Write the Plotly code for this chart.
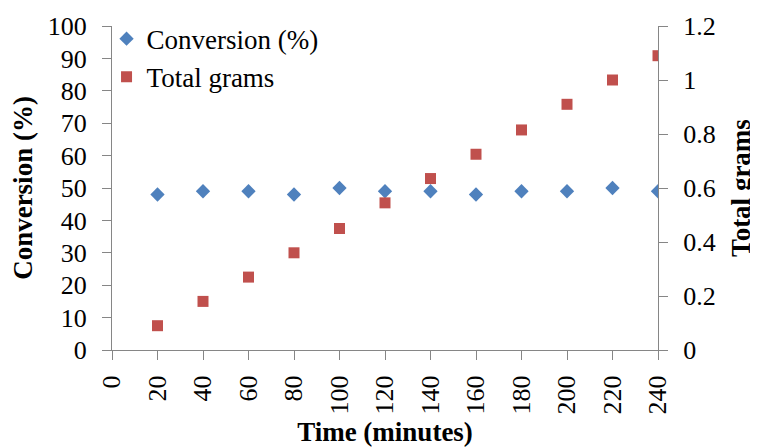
import plotly.graph_objects as go

time_min = [20, 40, 60, 80, 100, 120, 140, 160, 180, 200, 220, 240]
conversion = [48, 49, 49, 48, 50, 49, 49, 48, 49, 49, 50, 49]
total_grams = [0.09, 0.18, 0.27, 0.36, 0.45, 0.545, 0.635, 0.725, 0.815, 0.91, 1.0, 1.09]

FONT = "Liberation Serif, Times New Roman, serif"

fig = go.Figure()
fig.add_trace(go.Scatter(
    x=time_min, y=conversion, mode="markers", name="Conversion (%)",
    marker=dict(symbol="diamond", size=11, color="#4F81BD"),
))
fig.add_trace(go.Scatter(
    x=time_min, y=total_grams, mode="markers", name="Total grams", yaxis="y2",
    marker=dict(symbol="square", size=11, color="#C0504D"),
))

axis_common = dict(
    showgrid=False, zeroline=False, showline=True, linecolor="#868686", linewidth=1,
    ticks="outside", tickcolor="#868686", ticklen=9, automargin=False,
    tickfont=dict(family=FONT, size=26, color="#000000"),
)

fig.update_layout(
    width=750, height=439,
    margin=dict(l=104, r=100, t=18, b=97, autoexpand=False),
    paper_bgcolor="white", plot_bgcolor="white",
    font=dict(family=FONT, color="#000000"),
    showlegend=True,
    legend=dict(x=-0.01, y=0.985, xanchor="left", yanchor="top", yref="container",
                font=dict(family=FONT, size=27, color="#000000"),
                bgcolor="rgba(0,0,0,0)", itemwidth=30),
    xaxis=dict(range=[0, 240], tickmode="linear", tick0=0, dtick=20, tickangle=-90,
               ticklabelstandoff=5,
               title=dict(text="<b>Time (minutes)</b>", font=dict(family=FONT, size=27), standoff=13),
               **axis_common),
    yaxis=dict(range=[0, 100], tickmode="linear", tick0=0, dtick=10,
               ticklabelstandoff=10,
               title=dict(text="<b>Conversion (%)</b>", font=dict(family=FONT, size=27), standoff=12),
               **axis_common),
    yaxis2=dict(range=[0, 1.2], tickmode="linear", tick0=0, dtick=0.2, overlaying="y", side="right",
                tickformat="~g", ticklabelstandoff=10,
                title=dict(text="<b>Total grams</b>", font=dict(family=FONT, size=27), standoff=16),
                **axis_common),
)

fig.write_html("out.html")
